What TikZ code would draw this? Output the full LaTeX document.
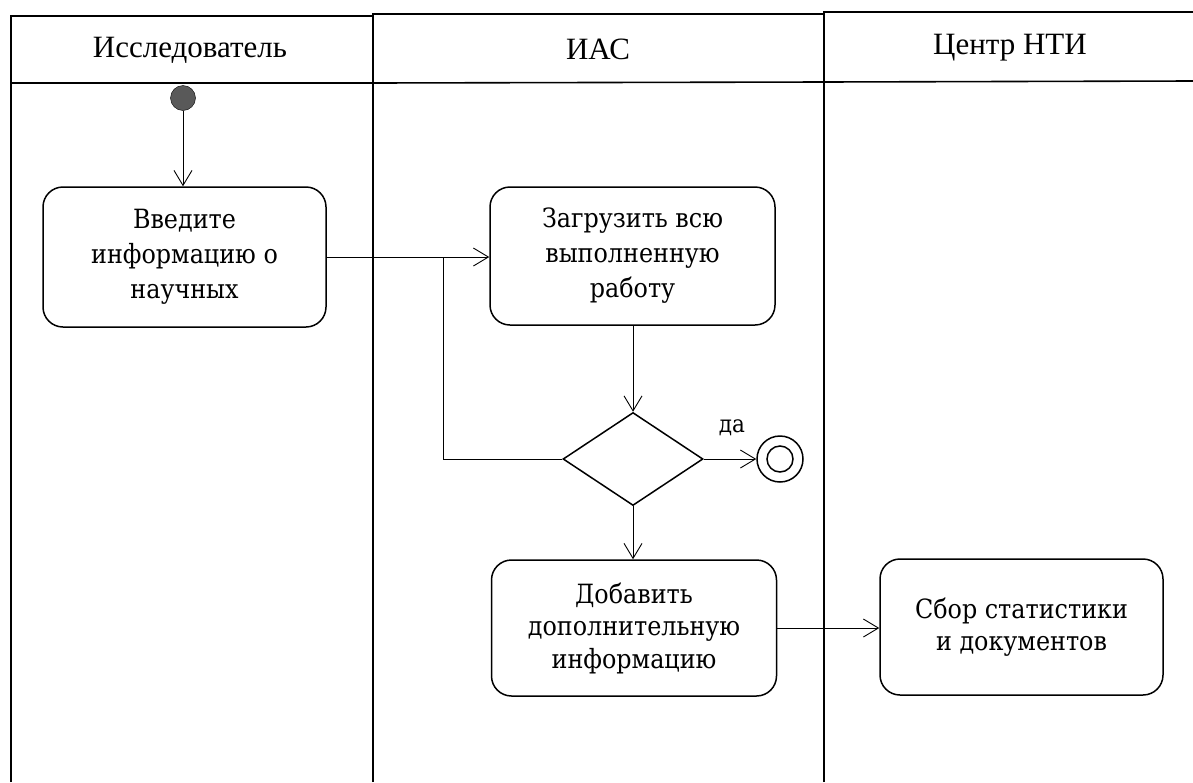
\documentclass[tikz,border=0pt]{standalone}
\usepackage{fontspec}
\setmainfont{Liberation Serif}
\newfontfamily\nodefont{DejaVu Serif Condensed}
\usetikzlibrary{arrows.meta,shapes.geometric}
\begin{document}
\begin{tikzpicture}[x=1pt,y=-1pt,
  lane/.style={line width=1.6pt},
  act/.style={draw, line width=1.5pt, rounded corners=20pt, align=center, inner sep=0pt},
  topfont/.style={font=\nodefont\fontsize{26.5}{35}\selectfont},
  lowfont/.style={font=\nodefont\fontsize{26.5}{32.5}\selectfont},
  flow/.style={line width=0.9pt, -{Straight Barb[length=15pt,width=18pt,line width=0.9pt]}},
  plain/.style={line width=0.9pt},
  hdr/.style={font=\fontsize{31}{36}\selectfont}
]
\useasboundingbox (0,0) rectangle (1193,782);
% swimlanes
\draw[lane] (11,782) -- (11,16) -- (373,16);
\draw[lane] (373,782) -- (373,14) -- (824,14);
\draw[lane] (824,782) -- (824,12) -- (1193,12);
\draw[lane] (11,83) -- (373,83) -- (824,82) -- (1193,81);
\node[hdr] (h1) at (190,50) {Исследователь};
\node[hdr] (h2) at (598,49) {ИАС};
\node[hdr] (h3) at (1010,48) {Центр НТИ};
% nodes
\node[circle, draw, fill=black!65, minimum size=25pt, inner sep=0pt] (start) at (183,98) {};
\node[act, topfont, minimum width=283pt, minimum height=140pt] (b1) at (184.5,257) {Введите\\информацию о\\научных};
\node[act, topfont, minimum width=285pt, minimum height=138pt] (b2) at (632.5,256) {Загрузить всю\\выполненную\\работу};
\node[diamond, draw, line width=1.5pt, aspect=1.5, minimum width=140pt, minimum height=93pt, inner sep=0pt] (dec) at (633,459) {};
\node[circle, draw, line width=1.5pt, minimum size=46pt, inner sep=0pt] (end) at (780,459) {};
\node[circle, draw, line width=1.5pt, minimum size=26pt, inner sep=0pt] (endin) at (780,459) {};
\node[act, lowfont, minimum width=285pt, minimum height=136pt] (b3) at (634,628) {Добавить\\дополнительную\\информацию};
\node[act, lowfont, minimum width=283pt, minimum height=136pt] (b4) at (1021.5,627) {Сбор статистики\\и документов};
\node[font=\nodefont\fontsize{24}{28}\selectfont] (yes) at (732,428) {да};
\coordinate (j1) at (443,459);
\coordinate (j2) at (443,257);
% connectors
\draw[flow] (start) -- (b1.north -| start);
\draw[flow] (b1.east) -- (b2.west |- b1.east);
\draw[plain] (dec.west) -- (j1) -- (j2);
\draw[flow] (b2.south -| dec.north) -- (dec.north);
\draw[flow] (dec.east) -- (end.west);
\draw[flow] (dec.south) -- (b3.north -| dec.south);
\draw[flow] (b3.east) -- (b4.west |- b3.east);
\end{tikzpicture}
\end{document}
